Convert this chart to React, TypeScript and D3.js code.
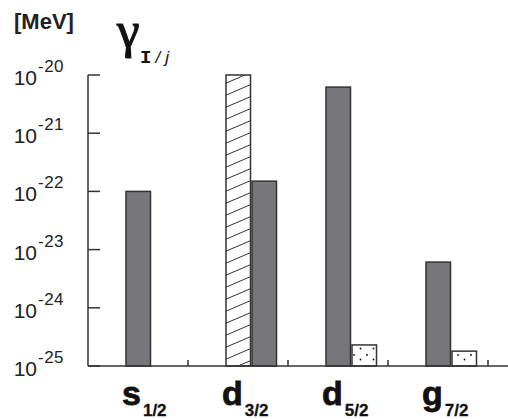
import React from 'react';
import * as d3 from 'd3';

// partial widths per orbital, two bars per group (left, right)
const orbitals = ['s', 'd', 'd', 'g'];
const subscripts = ['1/2', '3/2', '5/2', '7/2'];
const leftValues = [1e-22, 1e-20, 6.2e-21, 6.1e-24];
const leftFills = ['gray', 'hatch', 'gray', 'gray'];
const rightValues = [1e-25, 1.5e-22, 2.3e-25, 1.8e-25];
const rightFills = ['gray', 'gray', 'dots', 'dots'];
const decades = [-20, -21, -22, -23, -24, -25];

const W = 508,
  H = 419;

export default function App() {
  const y = d3.scaleLog().domain([1e-25, 1e-20]).range([366, 75]);
  const x = d3
    .scaleBand()
    .domain(d3.range(orbitals.length).map(String))
    .range([88, 488])
    .paddingInner(0)
    .paddingOuter(0);
  const step = x.step();
  const barW = step * 0.245;

  const fillFor = (f: string) => (f === 'hatch' ? 'url(#hatch)' : f === 'dots' ? 'url(#dots)' : '#77777b');

  const bar = (v: number, f: string, x0: number, key: string) => (
    <rect
      key={key}
      x={x0}
      y={y(v)}
      width={barW}
      height={y(1e-25) - y(v)}
      fill={fillFor(f)}
      stroke="#333"
      strokeWidth={1.5}
    />
  );

  return (
    <svg width={W} height={H} style={{ position: 'absolute', left: 0, top: 0 }}>
      <defs>
        <pattern id="hatch" patternUnits="userSpaceOnUse" width={28} height={12}>
          <rect width={28} height={12} fill="#fff" />
          <line x1={-2} y1={12.86} x2={30} y2={-0.86} stroke="#333" strokeWidth={1} />
        </pattern>
        <pattern id="dots" patternUnits="userSpaceOnUse" width={13} height={11}>
          <rect width={13} height={11} fill="#fff" />
          <circle cx={3} cy={3} r={0.9} fill="#111" />
          <circle cx={9.5} cy={7.5} r={0.9} fill="#111" />
        </pattern>
      </defs>

      {/* unit and quantity labels */}
      <text x={14} y={29} fontFamily="Liberation Sans, Arial, sans-serif" fontWeight="bold" fontSize={22} fill="#222">
        [MeV]
      </text>
      <text
        x={117}
        y={47}
        fontFamily="Liberation Serif, Times New Roman, serif"
        fontSize={51}
        fill="#111"
        stroke="#111"
        strokeWidth={1.2}
      >
        γ
      </text>
      <text x={140} y={63} fill="#111">
        <tspan fontFamily="Liberation Mono, monospace" fontWeight="bold" fontSize={19}>
          I
        </tspan>
        <tspan fontFamily="Liberation Sans, Arial, sans-serif" fontStyle="italic" fontSize={17} dx={4}>
          /
        </tspan>
        <tspan fontFamily="Liberation Sans, Arial, sans-serif" fontStyle="italic" fontSize={17} dx={5}>
          j
        </tspan>
      </text>

      {/* bars */}
      {orbitals.map((o, i) => {
        const x0 = x(String(i)) as number;
        return (
          <g key={i}>
            {bar(leftValues[i], leftFills[i], x0 + step * 0.38, 'l' + i)}
            {bar(rightValues[i], rightFills[i], x0 + step * 0.64, 'r' + i)}
          </g>
        );
      })}

      {/* axes */}
      <g stroke="#333" strokeWidth={1.5} fill="none">
        <line x1={88} y1={y(1e-20)} x2={88} y2={y(1e-25)} />
        <line x1={88} y1={y(1e-25)} x2={W} y2={y(1e-25)} />
        {decades.map(d => (
          <line key={d} x1={88} x2={100} y1={y(Math.pow(10, d))} y2={y(Math.pow(10, d))} />
        ))}
        {orbitals.map((o, i) => {
          const xe = (x(String(i)) as number) + step;
          return <line key={i} x1={xe} x2={xe} y1={y(1e-25) - 6} y2={y(1e-25)} />;
        })}
      </g>

      {/* y tick labels */}
      {decades.map(d => {
        const ty = y(Math.pow(10, d));
        return (
          <g key={d} fontFamily="Liberation Sans, Arial, sans-serif" fill="#222">
            <text x={37} y={ty + 10} fontSize={21} textAnchor="end">
              10
            </text>
            <text x={38} y={ty - 3} fontSize={17} letterSpacing={0.5}>
              {d}
            </text>
          </g>
        );
      })}

      {/* x labels */}
      {orbitals.map((o, i) => {
        const x0 = x(String(i)) as number;
        return (
          <text
            key={i}
            x={x0 + step * 0.34}
            y={405}
            fontFamily="Liberation Sans, Arial, sans-serif"
            fontWeight="bold"
            fill="#111"
            stroke="#111"
            strokeWidth={0.8}
          >
            <tspan fontSize={34}>{o}</tspan>
            <tspan fontSize={17} strokeWidth={0.3} dx={2} dy={11}>
              {subscripts[i]}
            </tspan>
          </text>
        );
      })}
    </svg>
  );
}
